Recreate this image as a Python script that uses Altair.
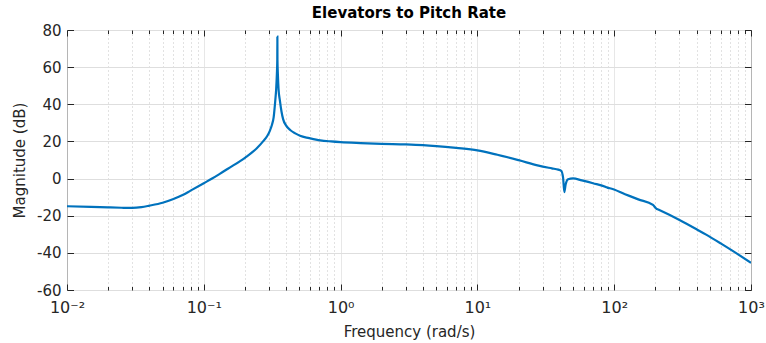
import altair as alt
import pandas as pd

# Bode magnitude of the elevator -> pitch-rate transfer function
freq = [0.01, 0.015, 0.02, 0.025, 0.03, 0.035, 0.04, 0.05, 0.06, 0.07, 0.08,
        0.1, 0.115, 0.13, 0.15, 0.2, 0.244, 0.273, 0.29, 0.305, 0.315, 0.324,
        0.333, 0.338, 0.342, 0.3445, 0.345, 0.3455, 0.348, 0.352, 0.36, 0.37,
        0.38, 0.4, 0.43, 0.47, 0.505, 0.59, 0.71, 0.85, 1.0, 1.4, 2.0, 3.0,
        4.0, 5.0, 7.0, 10, 14, 20, 28, 35, 39, 41, 42.3, 43.2, 44.2, 46, 50,
        58, 70, 87, 90, 93, 120, 150, 192, 203, 210, 300, 400, 470, 600, 730,
        1000]
mag_db = [-14.9, -15.2, -15.5, -15.7, -15.8, -15.4, -14.6, -13.0, -11.0, -8.9,
          -6.5, -2.5, 0.0, 2.4, 5.3, 11.2, 16.3, 20.3, 22.8, 26.0, 29.0, 33.0,
          42.0, 48.0, 56.0, 64.0, 76.4, 64.0, 56.0, 48.0, 42.0, 36.0, 32.0,
          28.5, 26.0, 24.2, 23.0, 21.8, 20.6, 20.0, 19.6, 19.1, 18.7, 18.4,
          18.0, 17.5, 16.5, 15.2, 12.8, 9.9, 7.0, 5.5, 4.8, 4.2, 0.5, -7.3,
          -3.0, -0.4, 0.1, -1.0, -2.5, -4.5, -5.0, -5.2, -8.4, -11.2, -14.2,
          -16.2, -16.7, -22.3, -27.3, -30.2, -34.9, -38.8, -45.4]

# Axis ticks
decades = [0.01, 0.1, 1, 10, 100, 1000]
decade_labels = ["10⁻²", "10⁻¹", "10⁰", "10¹", "10²", "10³"]
minor_mult = [2, 3, 4, 5, 6, 7, 8, 9]
x_ticks = sorted(decades + [m * d for d in decades[:-1] for m in minor_mult])
y_ticks = [-60, -40, -20, 0, 20, 40, 60, 80]

W, H = 684, 260
INK = "#262626"

df = pd.DataFrame({"f": freq, "db": mag_db})

dec_js = "[" + ",".join(repr(d) for d in decades) + "]"
lab_js = "[" + ",".join("'" + s + "'" for s in decade_labels) + "]"
is_major = f"indexof({dec_js}, datum.value) >= 0"
x_label_expr = f"{is_major} ? {lab_js}[indexof({dec_js}, datum.value)] : ''"

x_scale = alt.Scale(type="log", domain=[0.01, 1000], nice=False)
y_scale = alt.Scale(domain=[-60, 80], nice=False)

# main curve with labelled axes and grid
main = alt.Chart(df).mark_line(color="#0072BD", strokeWidth=2.2, clip=True,
                               interpolate="monotone").encode(
    x=alt.X("f:Q", scale=x_scale, title="Frequency (rad/s)",
            axis=alt.Axis(orient="bottom", values=x_ticks, labelExpr=x_label_expr,
                          grid=True, ticks=False, domain=False,
                          gridColor={"condition": {"test": is_major, "value": "#dedede"},
                                     "value": "#c4c4c4"},
                          gridDash={"condition": {"test": is_major, "value": [1, 0]},
                                    "value": [1, 3]},
                          labelFontSize=16, labelColor=INK, labelPadding=9,
                          labelFlush=False, labelOverlap=False,
                          titleFontSize=15, titleColor=INK, titleFontWeight="normal",
                          titlePadding=9)),
    y=alt.Y("db:Q", scale=y_scale, title="Magnitude (dB)",
            axis=alt.Axis(orient="left", values=y_ticks, labelExpr="'' + datum.value",
                          grid=True, gridColor="#dedede", ticks=False, domain=False,
                          labelFontSize=15, labelColor=INK, labelPadding=6,
                          titleFontSize=15, titleColor=INK, titleFontWeight="normal",
                          titlePadding=9)),
)

tick_size_x = {"condition": {"test": is_major, "value": 6}, "value": 3.5}

# inward ticks on the bottom and left edges
ticks_bl = alt.Chart(df).mark_line(strokeOpacity=0).encode(
    x=alt.X("f:Q", scale=x_scale, title=None,
            axis=alt.Axis(orient="top", offset=-H, values=x_ticks, labels=False,
                          grid=False, domain=False, ticks=True, tickColor=INK,
                          tickSize=tick_size_x)),
    y=alt.Y("db:Q", scale=y_scale, title=None,
            axis=alt.Axis(orient="right", offset=-W, values=y_ticks, labels=False,
                          grid=False, domain=False, ticks=True, tickColor=INK,
                          tickSize=6.5)),
)

# inward ticks on the top and right edges
ticks_tr = alt.Chart(df).mark_line(strokeOpacity=0).encode(
    x=alt.X("f:Q", scale=x_scale, title=None,
            axis=alt.Axis(orient="bottom", offset=-H, values=x_ticks, labels=False,
                          grid=False, domain=False, ticks=True, tickColor=INK,
                          tickSize=tick_size_x)),
    y=alt.Y("db:Q", scale=y_scale, title=None,
            axis=alt.Axis(orient="left", offset=-W, values=y_ticks, labels=False,
                          grid=False, domain=False, ticks=True, tickColor=INK,
                          tickSize=6.5)),
)

chart = alt.layer(main, ticks_bl, ticks_tr).resolve_axis(
    x="independent", y="independent"
).properties(
    width=W, height=H,
    title=alt.TitleParams("Elevators to Pitch Rate", fontSize=15, fontWeight="bold",
                          color="#000000", anchor="middle", offset=2),
    autosize=alt.AutoSizeParams(type="none"),
    padding={"left": 67, "top": 30, "right": 15, "bottom": 53},
).configure(
    font="DejaVu Sans",
).configure_view(
    stroke="#3a3a3a", strokeWidth=1,
)

chart.save("out.html", embed_options={"renderer": "svg", "actions": False})
